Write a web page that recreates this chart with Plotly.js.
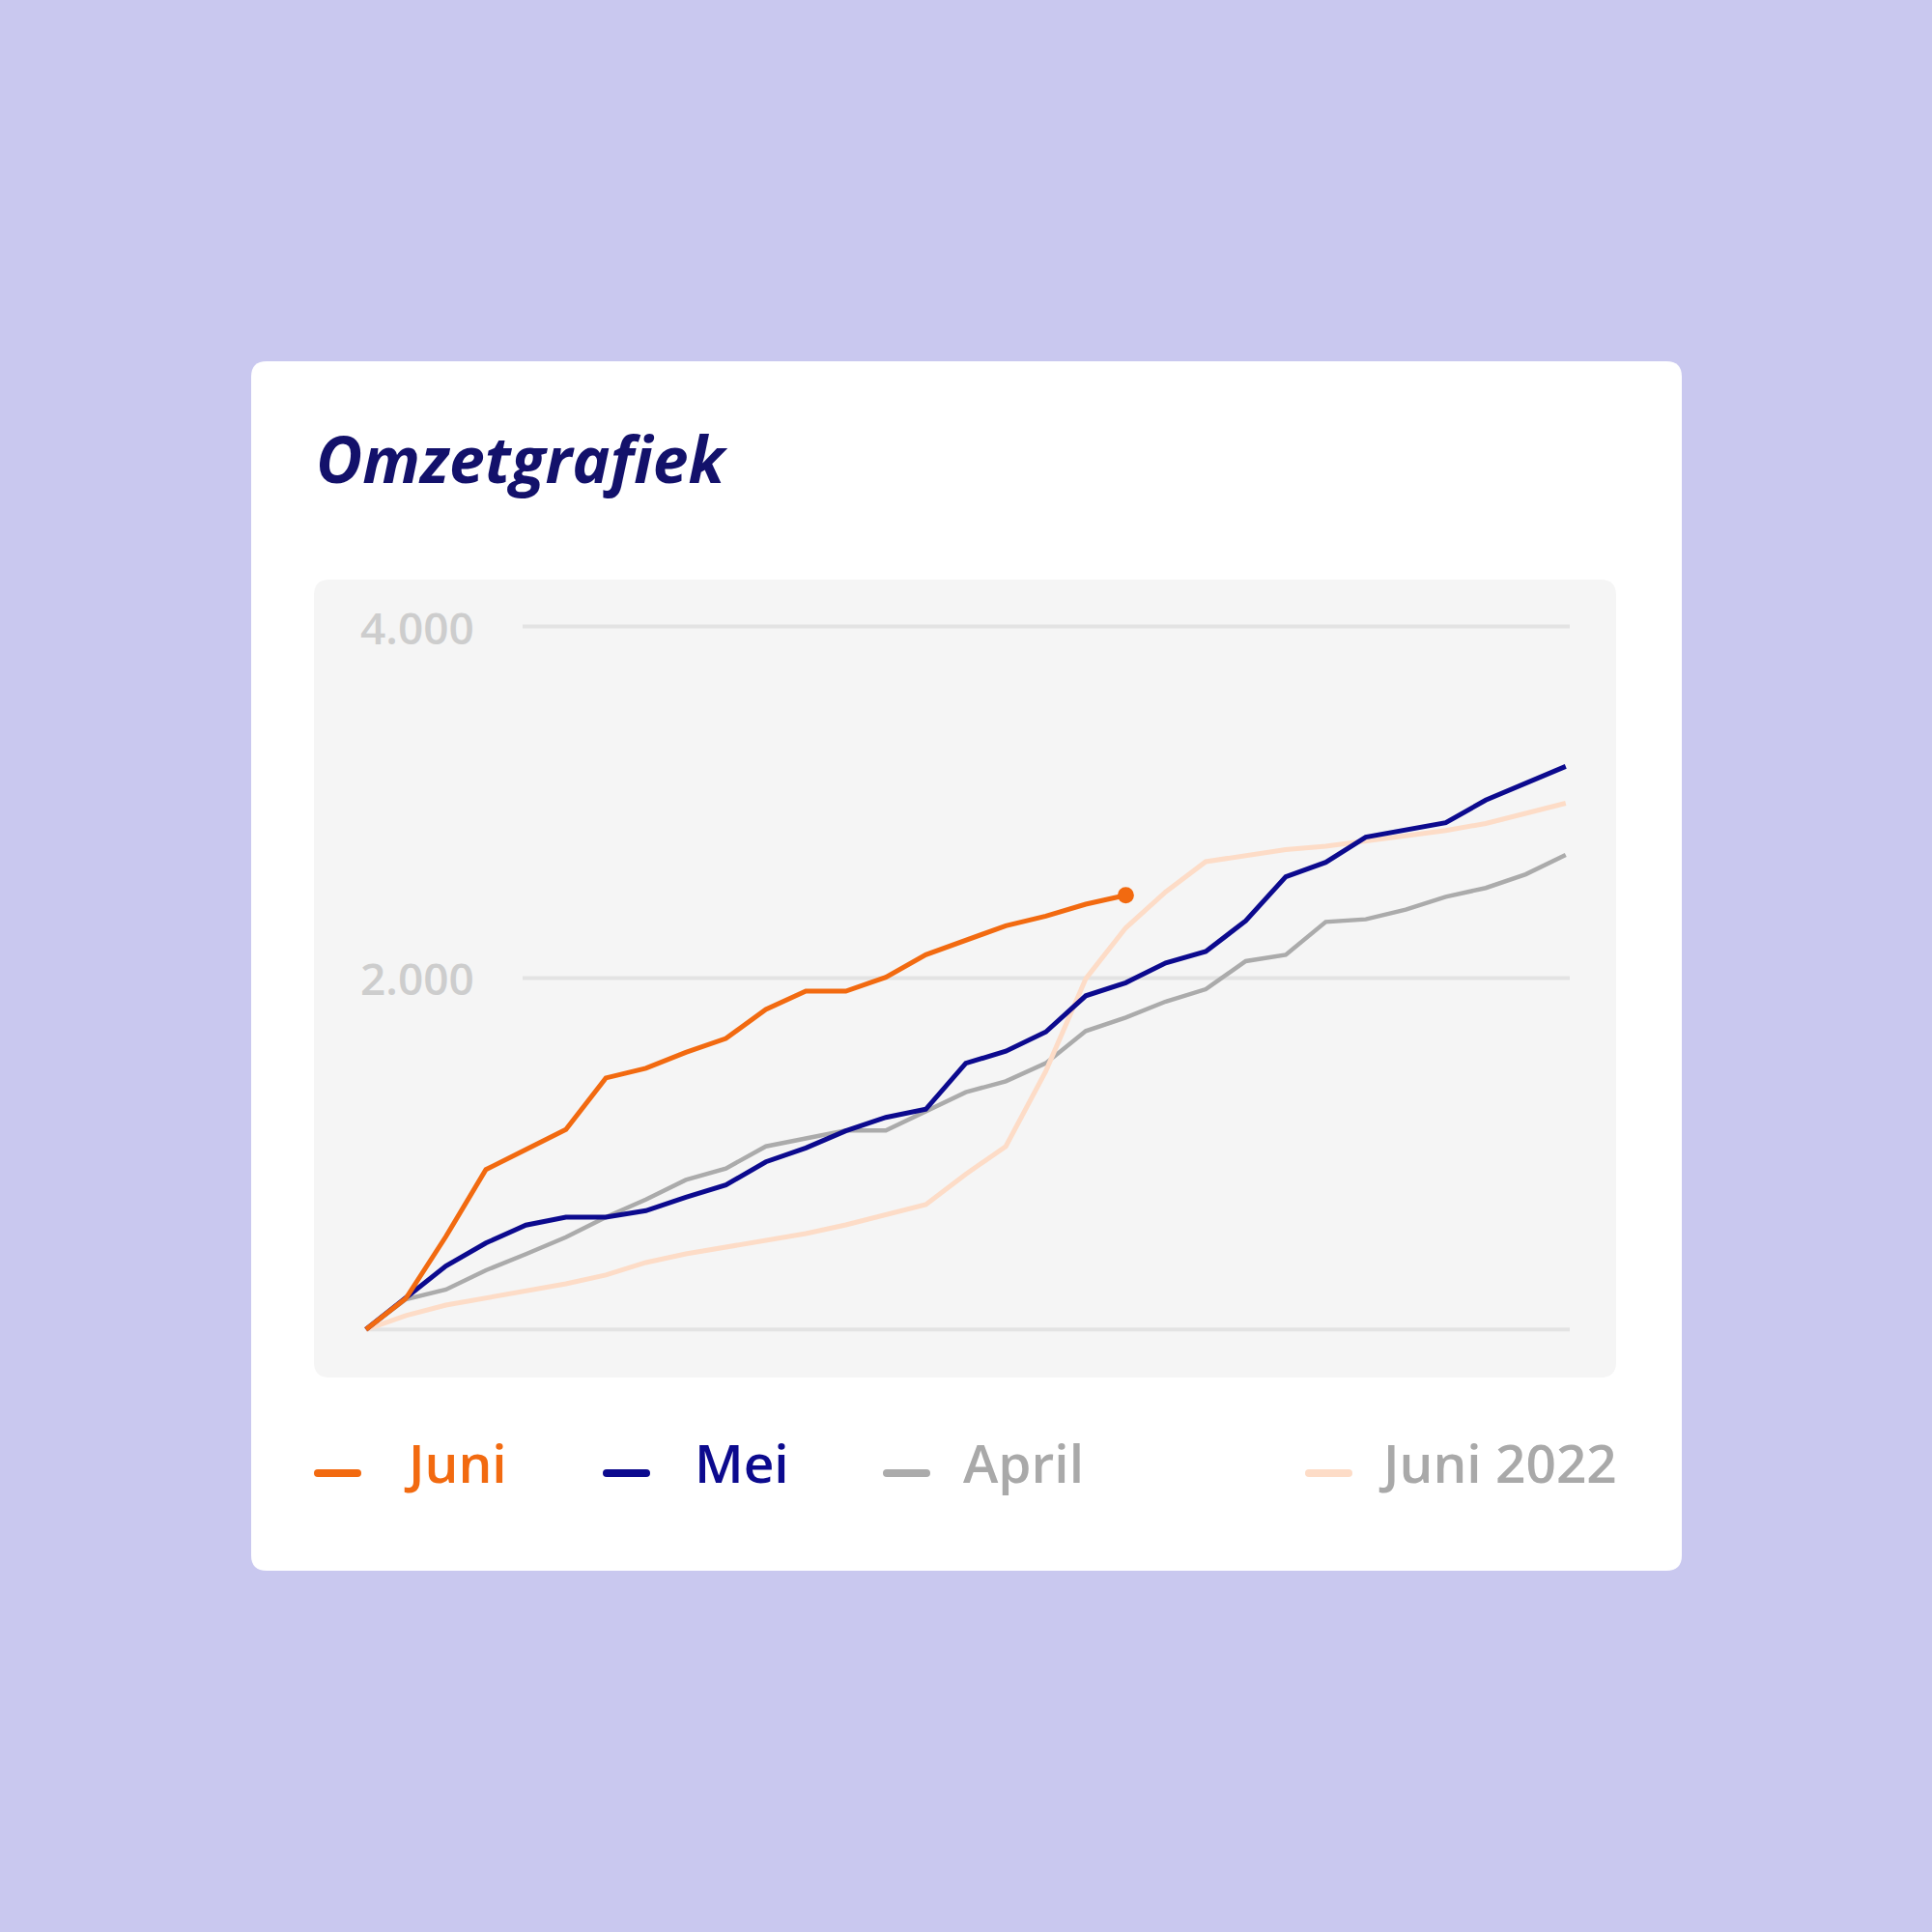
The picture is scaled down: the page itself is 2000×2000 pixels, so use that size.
<!DOCTYPE html>
<html>
<head>
<meta charset="utf-8">
<script src="https://cdn.plot.ly/plotly-3.0.1.min.js"></script>
<style>
  html, body { margin: 0; padding: 0; background: #c9c8ef; }
  #chart { width: 2000px; height: 2000px; }
</style>
</head>
<body>
<div id="chart"></div>
<script>
// ---------- data ----------
const days = [1,2,3,4,5,6,7,8,9,10,11,12,13,14,15,16,17,18,19,20,21,22,23,24,25,26,27,28,29,30,31];
const seriesNames = ['Juni', 'Mei', 'April', 'Juni 2022'];
const juni = [0,177,529,910,1024,1138,1431,1486,1577,1656,1821,1925,1925,2004,2132,2216,2297,2352,2420,2471];
const mei = [0,177,361,492,594,639,639,676,753,822,954,1033,1130,1207,1253,1515,1583,1693,1899,1973,2086,2151,2325,2576,2658,2801,2843,2883,3012,3107,3204];
const april = [0,172,227,337,429,525,639,739,851,916,1042,1084,1132,1132,1238,1350,1412,1515,1698,1775,1866,1936,2096,2132,2319,2334,2389,2462,2512,2590,2700];
const juni2022 = [0,79,139,178,216,260,310,381,430,469,507,546,595,652,711,884,1042,1470,1996,2285,2490,2662,2696,2730,2750,2780,2810,2839,2879,2936,2994];
const yTickVals = [2000, 4000];
const yTickText = ['2.000', '4.000'];
const chartTitle = 'Omzetgrafiek';

// ---------- styles ----------
const colors = {
  'Juni': '#f26a10',
  'Mei': '#0c0a8e',
  'April': '#ababab',
  'Juni 2022': '#fddcc7'
};
const legendTextColors = {
  'Juni': '#f26a10',
  'Mei': '#0c0a8e',
  'April': '#a9a9a9',
  'Juni 2022': '#a9a9a9'
};
const W = 2000, H = 2000;
const px = x => +(x / W).toFixed(6);
const py = y => +(1 - y / H).toFixed(6);

function roundRect(x0, y0, x1, y1, r) {
  const P = (x, y) => px(x) + ',' + py(y);
  return 'M' + P(x0 + r, y0) +
    ' L' + P(x1 - r, y0) +
    ' Q' + P(x1, y0) + ' ' + P(x1, y0 + r) +
    ' L' + P(x1, y1 - r) +
    ' Q' + P(x1, y1) + ' ' + P(x1 - r, y1) +
    ' L' + P(x0 + r, y1) +
    ' Q' + P(x0, y1) + ' ' + P(x0, y1 - r) +
    ' L' + P(x0, y0 + r) +
    ' Q' + P(x0, y0) + ' ' + P(x0 + r, y0) + ' Z';
}

// ---------- traces ----------
const lastIdx = juni.length - 1;
const traces = [
  { name: 'April', x: days.slice(0, april.length), y: april, mode: 'lines',
    line: { color: colors['April'], width: 4.5 }, hoverinfo: 'skip' },
  { name: 'Juni 2022', x: days.slice(0, juni2022.length), y: juni2022, mode: 'lines',
    line: { color: colors['Juni 2022'], width: 5 }, hoverinfo: 'skip' },
  { name: 'Mei', x: days.slice(0, mei.length), y: mei, mode: 'lines',
    line: { color: colors['Mei'], width: 5 }, hoverinfo: 'skip' },
  { name: 'Juni', x: days.slice(0, juni.length), y: juni, mode: 'lines',
    line: { color: colors['Juni'], width: 5 }, hoverinfo: 'skip' },
  { name: 'Juni', x: [days[lastIdx]], y: [juni[lastIdx]], mode: 'markers',
    marker: { color: colors['Juni'], size: 17, opacity: 1, line: { width: 0 } },
    cliponaxis: false, hoverinfo: 'skip' }
];

// ---------- shapes ----------
const shapes = [
  { type: 'path', xref: 'paper', yref: 'paper', layer: 'below',
    path: roundRect(260, 374, 1741, 1626, 16), fillcolor: '#ffffff', line: { width: 0 } },
  { type: 'path', xref: 'paper', yref: 'paper', layer: 'below',
    path: roundRect(325, 600, 1673, 1426, 16), fillcolor: '#f5f5f5', line: { width: 0 } },
  { type: 'line', xref: 'paper', yref: 'y', layer: 'below',
    x0: px(380), x1: px(1625), y0: 0, y1: 0, line: { color: '#e3e3e3', width: 4 } }
];
yTickVals.forEach(v => shapes.push({
  type: 'line', xref: 'paper', yref: 'y', layer: 'below',
  x0: px(541), x1: px(1625), y0: v, y1: v, line: { color: '#e3e3e3', width: 4 }
}));

// legend swatches
const legendSwatchX = { 'Juni': 325, 'Mei': 624, 'April': 914, 'Juni 2022': 1351 };
const legendTextX = { 'Juni': 416, 'Mei': 717, 'April': 995, 'Juni 2022': 1676 };
seriesNames.forEach(n => {
  const x0 = legendSwatchX[n];
  shapes.push({ type: 'path', xref: 'paper', yref: 'paper', layer: 'above',
    path: roundRect(x0, 1521, x0 + 49, 1529, 4), fillcolor: colors[n], line: { width: 0 } });
});

// ---------- annotations ----------
const annotations = [
  { text: chartTitle, xref: 'paper', yref: 'paper', x: px(325), y: py(474),
    xanchor: 'left', yanchor: 'middle', showarrow: false,
    font: { family: 'Open Sans', size: 66, weight: 700, style: 'italic', color: '#13116b' } }
];
yTickVals.forEach((v, i) => annotations.push({
  text: yTickText[i], xref: 'paper', yref: 'y', x: px(371), y: v,
  xanchor: 'left', yanchor: 'middle', showarrow: false,
  font: { family: 'Open Sans', size: 46, weight: 600, color: '#cdcdcd' }
}));
seriesNames.forEach(n => annotations.push({
  text: n, xref: 'paper', yref: 'paper', x: px(legendTextX[n]), y: py(1513),
  xanchor: n === 'Juni 2022' ? 'right' : 'left', yanchor: 'middle', showarrow: false,
  font: { family: 'Open Sans', size: 55, weight: 600, color: legendTextColors[n] }
}));

// ---------- layout ----------
const layout = {
  width: W, height: H,
  margin: { l: 0, r: 0, t: 0, b: 0, pad: 0 },
  paper_bgcolor: '#c9c8ef',
  plot_bgcolor: 'rgba(0,0,0,0)',
  showlegend: false,
  xaxis: { domain: [px(325), px(1673)], range: [-0.2995, 32.261],
    showgrid: false, zeroline: false, showticklabels: false, showline: false, fixedrange: true },
  yaxis: { domain: [py(1426), py(600)], range: [-273.2, 4266.6],
    showgrid: false, zeroline: false, showticklabels: false, showline: false, fixedrange: true },
  shapes: shapes,
  annotations: annotations
};

Plotly.newPlot('chart', traces, layout, { staticPlot: true, displayModeBar: false });
</script>
</body>
</html>
